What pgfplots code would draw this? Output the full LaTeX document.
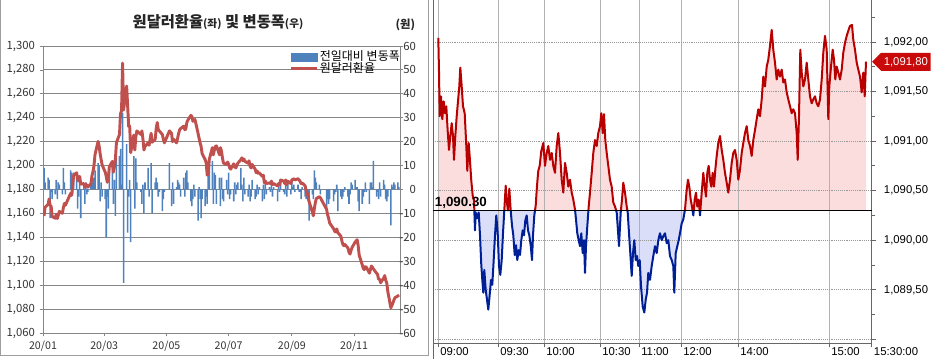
\documentclass[border=0pt]{standalone}
\usepackage{fontspec}
\setmainfont{Liberation Sans}
\newfontfamily\kr{Noto Sans CJK KR}
\usepackage{pgfplots}
\pgfplotsset{compat=1.18}
\usepackage{pgfplotstable}
\usetikzlibrary{shapes.symbols}

\definecolor{barblue}{RGB}{79,129,189}
\definecolor{linered}{RGB}{192,80,77}
\definecolor{gridgray}{RGB}{134,134,134}
\definecolor{areared}{RGB}{252,221,221}
\definecolor{areablue}{RGB}{218,222,248}
\definecolor{tickred}{RGB}{185,0,0}
\definecolor{tickblue}{RGB}{0,30,150}
\definecolor{tagred}{RGB}{200,10,10}

\pgfplotstableread{
day rate
1 1157.8
2 1165.1
5 1167.6
6 1172.1
7 1166.7
8 1166.0
9 1157.3
12 1156.0
13 1159.3
14 1155.7
15 1158.6
16 1161.6
19 1160.1
20 1164.9
21 1168.4
22 1166.9
27 1176.7
28 1175.0
29 1182.0
30 1191.8
33 1194.0
34 1188.5
35 1187.0
36 1191.0
37 1184.5
40 1185.0
41 1182.0
42 1184.5
43 1183.5
44 1182.0
47 1184.8
48 1191.5
49 1194.8
50 1200.0
51 1209.2
54 1220.2
55 1216.5
56 1210.0
57 1205.0
58 1200.5
61 1194.5
62 1191.0
63 1186.0
64 1189.0
65 1199.0
68 1203.5
69 1194.5
70 1199.0
71 1205.5
72 1219.3
75 1226.0
76 1243.5
77 1245.7
78 1285.7
79 1246.5
82 1266.5
83 1249.6
84 1232.7
85 1233.0
86 1210.8
89 1225.5
90 1213.0
91 1224.0
92 1229.0
96 1226.0
97 1229.0
98 1222.0
99 1213.0
100 1216.0
103 1219.0
104 1217.0
106 1227.0
107 1219.5
110 1222.0
111 1231.0
112 1236.0
113 1230.0
114 1229.0
117 1226.0
118 1222.0
119 1219.0
124 1229.0
126 1227.0
127 1220.0
128 1222.0
131 1219.0
132 1223.0
133 1227.0
134 1230.0
135 1231.0
138 1233.0
139 1230.0
140 1230.5
141 1236.0
142 1238.0
145 1242.0
146 1241.0
147 1237.0
148 1238.0
149 1238.5
152 1227.0
153 1223.0
154 1219.0
155 1216.0
156 1210.0
159 1205.0
160 1202.0
161 1192.0
162 1193.5
163 1205.0
166 1215.0
167 1209.0
168 1213.0
169 1216.0
170 1216.5
173 1209.0
174 1215.0
175 1212.0
176 1206.0
177 1202.0
180 1201.0
181 1203.0
182 1201.0
183 1198.0
184 1197.0
187 1201.5
188 1199.0
189 1198.0
190 1200.0
191 1202.0
194 1205.0
195 1206.5
196 1204.0
197 1205.5
198 1203.5
201 1202.0
202 1204.0
203 1199.5
204 1198.0
205 1201.0
208 1197.0
209 1194.0
210 1195.5
211 1193.5
212 1194.0
215 1191.0
216 1192.0
217 1185.5
218 1187.0
219 1185.0
222 1185.5
223 1185.0
224 1187.0
225 1184.0
226 1185.0
230 1183.0
231 1185.0
232 1184.0
233 1188.0
236 1187.0
237 1185.0
238 1188.0
239 1184.0
240 1187.0
243 1185.0
244 1188.0
245 1188.5
246 1189.0
247 1188.0
250 1189.0
251 1188.0
252 1187.0
253 1185.0
254 1185.5
257 1183.0
258 1179.0
259 1177.0
260 1174.0
261 1169.5
264 1161.5
265 1158.0
266 1164.0
267 1169.0
268 1172.5
271 1174.0
272 1173.0
278 1163.5
279 1159.0
280 1156.0
281 1152.0
285 1147.0
286 1145.0
287 1144.5
288 1147.0
289 1144.0
292 1141.0
293 1137.0
294 1134.0
295 1133.0
296 1134.0
299 1131.0
300 1127.5
301 1126.0
302 1129.0
303 1131.5
306 1136.0
307 1137.0
308 1138.0
309 1133.0
310 1125.0
313 1117.0
314 1114.0
315 1113.0
316 1115.5
317 1115.0
320 1110.0
321 1113.0
322 1116.0
323 1115.0
324 1113.5
327 1110.0
328 1109.0
329 1105.0
330 1105.0
331 1102.0
334 1106.0
335 1108.0
336 1104.0
337 1102.0
338 1095.0
341 1081.0
342 1083.0
343 1085.0
344 1087.5
345 1089.5
348 1091.0
349 1091.8
}\ratetable

\pgfplotstableread{
day chg
1 9
2 3
5 5
6 4
7 -12
8 -1
9 -4
12 -2
13 4
14 -4
15 3
16 2
19 -2
20 9
21 3
22 -2
27 8
28 7
29 -2
30 7
33 6
34 -8
35 -3
36 3
37 -12
40 1
41 -6
42 3
43 -2
44 -1
47 3
48 7
49 3
50 5
51 8
54 11
55 10
56 -5
57 3
58 -3
61 -4
62 -20
63 -3
64 -8
65 10
68 11
69 -6
70 4
71 -11
72 13
75 14
76 17
77 2
78 32
79 -39
82 19
83 -18
84 -3
85 4
86 -22
89 14
90 -8
91 13
92 3
96 -1
97 -6
98 2
99 -10
100 3
103 9
104 -3
106 11
107 -10
110 3
111 5
112 3
113 -3
114 -1
117 -9
118 -4
119 -1
124 11
126 -7
127 3
128 -6
131 1
132 4
133 3
134 2
135 -3
138 5
139 -3
140 7
141 8
142 3
145 -5
146 -7
147 -4
148 2
149 -3
152 -13
153 1
154 -4
155 -12
156 -4
159 -7
160 -3
161 -6
162 9
163 12
166 12
167 -6
168 7
169 6
170 -6
173 5
174 -7
175 5
176 -4
177 -5
180 4
181 -2
182 7
183 -4
184 -2
187 -5
188 3
189 -2
190 2
191 3
194 9
195 2
196 -5
197 5
198 -2
201 -3
202 2
203 -5
204 -3
205 4
208 -4
209 -3
210 2
211 -2
212 1
215 -5
216 2
217 -4
218 3
219 -2
222 1
223 -1
224 2
225 -3
226 1
230 -5
231 2
232 -1
233 4
236 -1
237 -2
238 3
239 -3
240 3
243 -2
244 3
245 1
246 2
247 -1
250 2
251 -1
252 -1
253 -4
254 1
257 -3
258 -4
259 -3
260 -5
261 -13
264 -2
265 -4
266 8
267 5
268 3
271 2
272 -2
278 -8
279 -4
280 -6
281 -4
285 -5
286 -2
287 -1
288 2
289 -9
292 -3
293 -4
294 -3
295 -1
296 1
299 -3
300 -6
301 -2
302 3
303 2
306 4
307 1
308 1
309 -5
310 -9
313 -6
314 -3
315 -1
316 3
317 -1
320 -6
321 3
322 3
323 1
324 12
327 -3
328 -1
329 -4
330 3
331 -3
334 4
335 2
336 -4
337 -5
338 -3
341 -15
342 2
343 1
344 3
345 2
348 3
349 1
}\chgtable

\pgfplotstableread{
t price
438.3 1092.04
439.0 1091.70
439.7 1091.25
441.0 1091.45
442.3 1091.22
443.7 1091.40
445.0 1091.28
446.3 1091.35
447.7 1091.10
449.0 1090.91
450.3 1091.05
451.7 1091.18
453.0 1091.05
454.0 1090.81
455.3 1091.05
456.7 1091.25
458.0 1091.40
459.3 1091.55
460.3 1091.74
461.7 1091.55
463.0 1091.35
464.7 1091.28
466.3 1090.95
467.3 1090.70
468.7 1090.98
470.0 1090.80
471.3 1090.60
472.7 1090.45
474.0 1090.40
475.0 1090.10
475.7 1090.28
477.0 1090.22
478.7 1090.28
480.0 1090.05
481.3 1089.75
482.3 1089.60
483.3 1089.47
484.3 1089.70
485.7 1089.50
487.0 1089.40
488.3 1089.30
489.7 1089.45
491.0 1089.60
492.3 1089.55
493.7 1089.80
495.0 1090.05
496.3 1090.25
497.7 1090.07
499.0 1089.74
500.3 1089.65
501.7 1089.80
503.0 1090.07
504.3 1090.30
505.7 1090.55
506.7 1090.40
508.0 1090.30
509.3 1090.52
510.7 1090.30
512.0 1090.15
513.3 1090.05
514.7 1089.85
516.0 1089.95
517.3 1089.80
518.7 1089.90
520.0 1089.85
521.3 1090.00
522.7 1090.10
524.0 1090.05
525.3 1090.20
526.7 1090.25
528.0 1090.10
529.3 1090.05
530.7 1089.95
532.0 1089.80
533.0 1090.05
534.3 1090.25
535.7 1090.35
537.0 1090.55
538.3 1090.70
539.7 1090.75
541.3 1090.90
543.3 1090.98
545.0 1090.75
546.7 1090.88
548.3 1090.95
550.0 1090.81
551.7 1090.88
553.3 1090.75
555.0 1090.68
556.7 1090.95
558.3 1091.08
560.0 1090.88
561.7 1090.61
563.3 1090.48
565.0 1090.78
566.7 1090.68
568.3 1090.54
570.0 1090.61
571.7 1090.48
573.3 1090.41
575.0 1090.31
576.0 1090.21
577.3 1090.07
578.7 1090.00
580.0 1089.94
581.3 1090.07
582.7 1089.87
584.0 1090.00
585.0 1089.67
586.0 1089.94
587.3 1090.14
588.7 1090.34
590.0 1090.48
591.7 1090.68
593.3 1090.88
595.0 1091.01
596.7 1090.95
598.3 1091.08
600.0 1091.15
601.3 1091.28
602.7 1091.08
604.0 1091.27
605.3 1091.01
606.7 1090.88
608.3 1090.75
610.0 1090.61
611.7 1090.54
613.3 1090.38
615.0 1090.34
616.7 1090.28
617.7 1090.14
619.0 1089.94
620.7 1090.28
622.0 1090.41
623.3 1090.58
625.0 1090.48
626.7 1090.34
627.7 1090.28
629.0 1090.07
630.3 1089.87
631.7 1089.64
633.0 1089.87
634.3 1090.00
635.7 1089.80
637.0 1089.84
638.3 1089.74
639.7 1089.80
641.0 1089.54
642.7 1089.33
644.3 1089.27
645.7 1089.40
647.0 1089.47
648.3 1089.67
650.0 1089.60
651.7 1089.74
653.3 1089.84
655.0 1089.94
656.7 1089.87
658.3 1090.00
660.0 1090.07
661.7 1090.00
663.3 1090.04
665.0 1090.07
666.7 1089.97
668.3 1090.00
670.0 1089.84
671.7 1089.80
673.3 1089.74
674.3 1089.47
675.7 1089.87
677.3 1089.94
678.7 1090.00
680.0 1090.07
681.7 1090.17
683.3 1090.21
685.0 1090.31
686.7 1090.51
688.0 1090.61
689.3 1090.54
690.7 1090.41
692.0 1090.34
693.3 1090.25
694.7 1090.41
696.0 1090.48
697.3 1090.34
698.7 1090.41
700.0 1090.25
701.7 1090.48
703.3 1090.68
704.7 1090.54
706.0 1090.44
707.3 1090.68
708.7 1090.75
710.0 1090.61
711.3 1090.54
712.7 1090.68
714.0 1090.54
715.3 1090.71
716.7 1090.85
718.3 1090.98
720.0 1091.05
721.7 1090.91
723.3 1090.81
725.0 1090.68
726.7 1090.58
728.3 1090.48
730.0 1090.61
731.7 1090.78
733.3 1090.88
735.0 1090.91
736.7 1090.81
738.3 1090.61
740.0 1090.71
741.7 1090.88
743.3 1090.98
745.0 1091.08
746.7 1091.15
748.3 1091.01
750.0 1090.95
751.7 1090.85
753.3 1091.01
755.0 1091.11
756.7 1091.22
758.3 1091.32
760.0 1091.25
761.7 1091.42
763.3 1091.65
765.0 1091.55
766.7 1091.75
768.3 1091.82
770.0 1091.96
771.7 1092.12
773.3 1091.92
775.0 1091.79
776.7 1091.62
778.3 1091.72
780.0 1091.65
781.7 1091.72
783.3 1091.59
785.0 1091.62
786.7 1091.49
788.3 1091.42
790.0 1091.35
791.7 1091.28
793.3 1091.32
795.0 1091.28
796.7 1091.08
797.7 1090.81
799.0 1091.25
800.3 1091.92
801.7 1091.69
803.3 1091.55
805.0 1091.62
806.7 1091.79
808.3 1091.62
810.0 1091.45
811.7 1091.38
813.3 1091.42
815.0 1091.45
816.7 1091.38
818.3 1091.35
820.0 1091.42
821.7 1091.62
823.3 1091.89
825.0 1092.06
826.7 1091.92
828.3 1091.22
829.3 1091.55
831.0 1091.75
832.7 1091.92
834.0 1091.82
835.3 1091.62
836.7 1091.75
838.3 1091.69
840.0 1091.62
841.7 1091.72
843.3 1091.89
845.0 1091.99
846.7 1092.06
848.3 1092.11
850.0 1092.16
852.0 1092.17
853.3 1092.02
855.0 1091.92
856.7 1091.79
858.3 1091.72
860.0 1091.65
861.7 1091.49
863.3 1091.69
864.7 1091.45
866.0 1091.80
}\intraday

\pgfplotsset{
  leftpanel/.style={at={(32.25pt,19.5pt)}, anchor=south west, scale only axis,
    width=267.75pt, height=215.25pt, xmin=0, xmax=350},
  rightpanel/.style={scale only axis, anchor=south west, width=329.025pt,
    xmin=433, xmax=871.7},
  bare/.style={axis line style={draw=none}, xtick=\empty, ytick=\empty},
}

\begin{document}
\begin{tikzpicture}
\path[use as bounding box] (0,0) rectangle (699.75pt,269.25pt);
% left panel frame
\draw[gridgray!80, line width=0.75pt] (0.4pt,269.25pt) -- (0.4pt,2.6pt) -- (321pt,2.6pt) -- (321pt,269.25pt);

% ---- bars (right axis) ----
\begin{axis}[leftpanel,
  ymin=-60, ymax=60,
  axis line style={draw=gridgray, line width=0.6pt},
  ytick={-60,-50,...,60}, yticklabel pos=right, ytick pos=right,
  xtick={0,60,121,182,244,305},
  xticklabels={20/01,20/03,20/05,20/07,20/09,20/11}, xtick pos=left,
  tick align=outside, major tick length=2.5pt,
  tick style={draw=gridgray, line width=0.6pt},
  ymajorgrids, grid style={draw=gridgray, line width=0.6pt},
  tick label style={font=\kr\fontsize{8.5}{9}\selectfont, text=black!80},
  xticklabel style={font=\kr\fontsize{8}{9}\selectfont},
  yticklabel style={anchor=east, xshift=13pt},
  /pgf/number format/assume math mode=true,
]
\addplot[ybar, bar width=1.15pt, fill=barblue, draw=none] table[x=day, y=chg] {\chgtable};
\end{axis}

% ---- exchange rate line (left axis) ----
\begin{axis}[leftpanel,
  ymin=1060, ymax=1300,
  axis x line=none, axis y line*=left,
  y axis line style={draw=gridgray, line width=0.6pt},
  ytick={1060,1080,...,1300},
  tick align=outside, major tick length=2.5pt,
  tick style={draw=gridgray, line width=0.6pt},
  tick label style={font=\kr\fontsize{8.5}{9}\selectfont, text=black!80},
  /pgf/number format/assume math mode=true,
  /pgf/number format/1000 sep={,},
  legend style={at={(0.69,0.988)}, anchor=north west, draw=none, fill=none,
    inner sep=0pt, font=\kr\fontsize{9}{10}\selectfont, row sep=-2.5pt,
    nodes={inner sep=1pt}},
  legend cell align=left,
]
\addlegendimage{legend image code/.code={\fill[barblue] (0pt,-2.9pt) rectangle (19.5pt,2.9pt);}}
\addlegendentry{전일대비 변동폭}
\addplot[linered, line width=2.2pt, line join=round,
  legend image code/.code={\draw[linered, line width=2.2pt] (0pt,0pt) -- (19.5pt,0pt);}]
  table[x=day, y=rate] {\ratetable};
\addlegendentry{원달러환율}
\end{axis}

% titles
\node[font=\kr\bfseries\fontsize{11.5}{13}\selectfont, text=black!85] at (163.5pt,252.75pt)
  {원달러환율{\fontsize{8}{9}\selectfont(좌)} 및 변동폭{\fontsize{8}{9}\selectfont(우)}};
\node[font=\kr\bfseries\fontsize{8.5}{10}\selectfont, text=black!85] at (304pt,250.5pt) {(원)};

% ---- right panel: red fill (upper) ----
\begin{axis}[rightpanel, bare, at={(324.75pt,111.375pt)}, height=158.09pt,
  ymin=1090.3, ymax=1092.424]
\addplot[fill=areared, draw=none] table[x=t, y=price] {\intraday}
  -- (axis cs:866,1089.8) -- (axis cs:438.3,1089.8) -- cycle;
\end{axis}
% ---- blue fill (lower) ----
\begin{axis}[rightpanel, bare, at={(324.75pt,11.775pt)}, height=99.6pt,
  ymin=1088.96, ymax=1090.3]
\addplot[fill=areablue, draw=none] table[x=t, y=price] {\intraday}
  -- (axis cs:866,1090.8) -- (axis cs:438.3,1090.8) -- cycle;
\end{axis}

% ---- grid, ticks, labels ----
\begin{axis}[rightpanel, at={(324.75pt,11.775pt)}, height=257.475pt,
  ymin=1088.96, ymax=1092.424,
  axis x line*=bottom, axis y line*=right,
  axis line style={draw=black!60, line width=0.75pt},
  xtick={438,498,544,600,639,681,738,829,871.7},
  xticklabels={09:00,09:30,10:00,10:30,11:00,12:00,14:00,15:00,15:30:00},
  xmajorgrids, x grid style={draw=black!30, line width=0.6pt},
  ytick={1089,1089.5,1090,1090.5,1091,1091.5,1092},
  yticklabels={{},{1,089,50},{1,090,00},{1,090,50},{1,091,00},{1,091,50},{1,092,00}},
  minor ytick={1089.25,1089.75,1090.25,1090.75,1091.25,1091.75,1092.25},
  ymajorgrids, y grid style={draw=black!40, densely dotted, line width=0.6pt},
  tick align=outside, major tick length=3pt, minor tick length=2.5pt,
  tick style={draw=black!60, line width=0.6pt},
  tick label style={font=\fontsize{8.5}{10}\selectfont, text=black},
  xticklabel style={anchor=north west, inner sep=0pt, xshift=1.5pt, yshift=-0.3pt},
  yticklabel style={anchor=west, inner sep=0pt, xshift=6pt},
]
\addplot[draw=none] coordinates {(438,1090.3)};
\end{axis}
\draw[black!60, line width=0.75pt] (324.75pt,0pt) -- (324.75pt,269.25pt);

% ---- colored price lines ----
\begin{axis}[rightpanel, bare, at={(324.75pt,111.375pt)}, height=158.09pt,
  ymin=1090.3, ymax=1092.424]
\addplot[tickred, line width=1.5pt, line join=round] table[x=t, y=price] {\intraday};
\end{axis}
\begin{axis}[rightpanel, bare, at={(324.75pt,11.775pt)}, height=99.6pt,
  ymin=1088.96, ymax=1090.3]
\addplot[tickblue, line width=1.5pt, line join=round] table[x=t, y=price] {\intraday};
\end{axis}

% ---- base line, labels, close tag ----
\begin{axis}[bare, scale only axis, anchor=south west, at={(324.75pt,11.775pt)},
  width=375pt, height=257.475pt, xmin=433, xmax=933,
  ymin=1088.96, ymax=1092.424]
\addplot[black, line width=0.8pt] coordinates {(433,1090.3) (871.7,1090.3)};
\node[anchor=south west, inner sep=0.5pt, font=\bfseries\fontsize{10}{12}\selectfont]
  at (axis cs:434,1090.31) {1,090.30};
\node[signal, signal to=west, fill=tagred, text=white, font=\fontsize{8.5}{10}\selectfont,
  minimum height=13.5pt, inner xsep=2pt, inner ysep=1pt, anchor=west]
  at (axis cs:871.7,1091.8) {1,091,80};
\end{axis}
\end{tikzpicture}
\end{document}
